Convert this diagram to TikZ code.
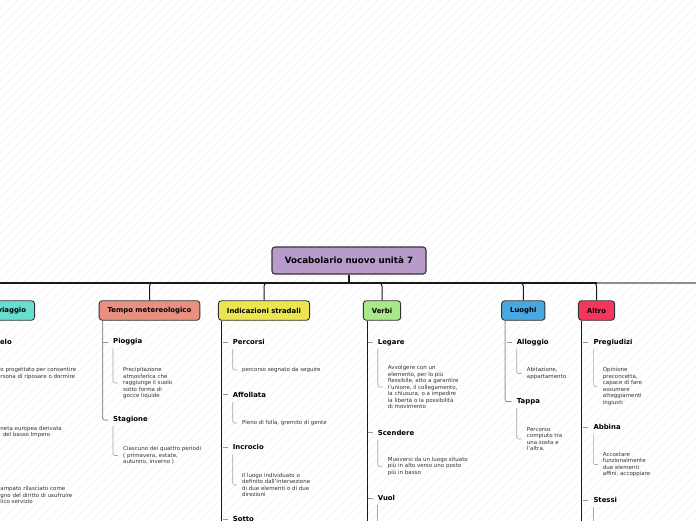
\documentclass[tikz,border=0pt]{standalone}
\usepackage{fontspec}
\setmainfont{DejaVu Sans}
\definecolor{croot}{HTML}{B89BCB}
\definecolor{cteal}{HTML}{68DED0}
\definecolor{csalmon}{HTML}{EA9080}
\definecolor{cyellow}{HTML}{EDE550}
\definecolor{cgreen}{HTML}{A8E888}
\definecolor{cblue}{HTML}{4AA8E0}
\definecolor{cred}{HTML}{F5365C}
\definecolor{edgec}{HTML}{333333}
\definecolor{desct}{HTML}{333333}
\begin{document}
\begin{tikzpicture}[x=1pt,y=-1pt,
  hatch/.style={draw=black!5, line width=0.5pt},
  rootbox/.style={draw=edgec, line width=1.1pt, rounded corners=3pt, fill=croot,
    font=\fontsize{8.7}{10}\selectfont\bfseries, minimum height=27pt, minimum width=154pt, inner xsep=10pt, inner ysep=0pt},
  childbox/.style={draw=edgec, line width=0.9pt, rounded corners=3pt,
    font=\fontsize{6.9}{8}\selectfont\bfseries, minimum height=19.5pt, inner xsep=8.5pt, inner ysep=0pt},
  itemlbl/.style={font=\fontsize{6.9}{8}\selectfont\bfseries, inner sep=0pt, anchor=west},
  desc/.style={font=\fontsize{5.5}{6.5}\selectfont, text=desct, inner sep=0pt, align=left, anchor=west},
  bus/.style={line width=1.4pt, draw=black!90},
  link/.style={line width=1pt, draw=black!90, rounded corners=3pt},
  spine/.style={line width=1pt, draw=black!90},
  grayspine/.style={line width=1pt, draw=black!40, rounded corners=2pt},
  tick/.style={draw=black!40, line width=0.6pt},
  dline/.style={draw=black!35, line width=0.6pt, rounded corners=1.5pt}
]
\useasboundingbox (0,0) rectangle (696,520);
\clip (0,0) rectangle (696,520);
\fill[white] (0,0) rectangle (696,520);
\foreach \i in {-520,-511,...,700} \draw[hatch] (\i,520) -- (\i+520,0);

% root and bus
\node[rootbox] (root) at (349,260.5) {Vocabolario nuovo unità 7};
\coordinate (rootbus) at (349,283);
\coordinate (busL) at (-20,283);
\coordinate (busR) at (597,283);
\coordinate (busE) at (700,283);
\draw[bus] (root.south) -- (rootbus);
\draw[bus] (busL) -- (busR);
\draw[line width=1.4pt, draw=black!45] (busR) -- (busE);

% children
\node[childbox, fill=cteal, anchor=east, text width=60pt, align=right] (viag) at (35,310.5) {Il viaggio};
\node[childbox, fill=csalmon] (tempo) at (149.5,310.5) {Tempo metereologico};
\node[childbox, fill=cyellow] (ind) at (264,310.5) {Indicazioni stradali};
\node[childbox, fill=cgreen] (verbi) at (382,310.5) {Verbi};
\node[childbox, fill=cblue] (luoghi) at (523.3,310.5) {Luoghi};
\node[childbox, fill=cred] (altro) at (596.5,310.5) {Altro};
\foreach \c in {viag,tempo,ind,verbi,luoghi,altro}
  \draw[link] (rootbus) -| (\c.north);

% ---- left column (Viaggio), cut by the page edge
\node[itemlbl, anchor=east] (l1) at (12,342) {elo};
\node[desc] (l1d) at (0.3,373.7) {o progettato per consentire\\rsona di riposare o dormire};
\node[desc] (l2d) at (0.3,432) {neta europea derivata\\\hspace*{2.5pt}del basso Impero};
\node[desc] (l3d) at (0.3,495) {ampato rilasciato come\\gno del diritto di usufruire\\lico servizio};

% ---- Tempo metereologico
\node[itemlbl] (pio) at (113,342) {Pioggia};
\node[desc] (piod) at (123,383) {Precipitazione\\atmosferica che\\raggiunge il suolo\\sotto forma di\\gocce liquide};
\node[itemlbl] (stag) at (113,420) {Stagione};
\node[desc] (stagd) at (123,455.5) {Ciascuno dei quattro periodi\\( primavera, estate,\\autunno, inverno )};
\draw[grayspine] ([xshift=4pt]tempo.south west) |- ([xshift=-5pt]stag.west);
\draw[tick] ([xshift=-10pt]pio.west) -- ([xshift=-5pt]pio.west);
\foreach \a/\b in {pio/piod,stag/stagd}
  \draw[dline] ([yshift=-4.5pt]\a.base west) |- ([xshift=-5pt]\b.west);

% ---- Indicazioni stradali
\node[itemlbl] (perc) at (232.7,342) {Percorsi};
\node[desc] (percd) at (242,370) {percorso segnato da seguire};
\node[itemlbl] (affo) at (232.7,394.7) {Affollata};
\node[desc] (affod) at (242,423) {Pieno di folla, gremito di gente};
\node[itemlbl] (incr) at (232.7,447.3) {Incrocio};
\node[desc] (incrd) at (242,485) {Il luogo individuato o\\definito dall'intersezione\\di due elementi o di due\\direzioni};
\node[itemlbl] (sotto) at (232.7,519) {Sotto};
\draw[spine] ([xshift=4pt]ind.south west) -- ++(0,230);
\foreach \a in {perc,affo,incr,sotto}
  \draw[tick] ([xshift=-10pt]\a.west) -- ([xshift=-5pt]\a.west);
\foreach \a/\b in {perc/percd,affo/affod,incr/incrd}
  \draw[dline] ([yshift=-4.5pt]\a.base west) |- ([xshift=-5pt]\b.west);

% ---- Verbi
\node[itemlbl] (leg) at (377.7,342.7) {Legare};
\node[desc] (legd) at (387.7,387) {Avvolgere con un\\elemento, per lo più\\flessibile, atto a garantire\\l'unione, il collegamento,\\la chiusura, o a impedire\\la libertà o la possibilità\\di movimento};
\node[itemlbl] (scen) at (377.7,432.7) {Scendere};
\node[desc] (scend) at (387.7,466.3) {Muoversi da un luogo situato\\più in alto verso uno posto\\più in basso};
\node[itemlbl] (vuol) at (377.7,498.3) {Vuol};
\draw[spine] ([xshift=4.5pt]verbi.south west) -- ++(0,230);
\foreach \a in {leg,scen,vuol}
  \draw[tick] ([xshift=-10pt]\a.west) -- ([xshift=-5pt]\a.west);
\foreach \a/\b in {leg/legd,scen/scend}
  \draw[dline] ([yshift=-4.5pt]\a.base west) |- ([xshift=-5pt]\b.west);
\draw[dline] ([yshift=-4.5pt]vuol.base west) -- ++(0,30);

% ---- Luoghi
\node[itemlbl] (allo) at (516.7,342.7) {Alloggio};
\node[desc] (allod) at (526.7,373.5) {Abitazione,\\appartamento};
\node[itemlbl] (tappa) at (516.7,401.7) {Tappa};
\node[desc] (tappad) at (526.7,439) {Percorso\\compiuto tra\\una sosta e\\l'altra.};
\draw[grayspine] ([xshift=4pt]luoghi.south west) |- ([xshift=-5pt]tappa.west);
\draw[tick] ([xshift=-10pt]allo.west) -- ([xshift=-5pt]allo.west);
\foreach \a/\b in {allo/allod,tappa/tappad}
  \draw[dline] ([yshift=-4.5pt]\a.base west) |- ([xshift=-5pt]\b.west);

% ---- Altro
\node[itemlbl] (preg) at (593.3,342.7) {Pregiudizi};
\node[desc] (pregd) at (602.7,386.3) {Opinione\\preconcetta,\\capace di fare\\assumere\\atteggiamenti\\ingiusti};
\node[itemlbl] (abb) at (593.3,427.3) {Abbina};
\node[desc] (abbd) at (602.7,464.5) {Accostare\\funzionalmente\\due elementi\\affini, accoppiare};
\node[itemlbl] (stessi) at (593.3,500) {Stessi};
\draw[spine] ([xshift=4pt]altro.south west) -- ++(0,230);
\foreach \a in {preg,abb,stessi}
  \draw[tick] ([xshift=-10pt]\a.west) -- ([xshift=-5pt]\a.west);
\foreach \a/\b in {preg/pregd,abb/abbd}
  \draw[dline] ([yshift=-4.5pt]\a.base west) |- ([xshift=-5pt]\b.west);
\draw[dline] ([yshift=-4.5pt]stessi.base west) -- ++(0,30);
\end{tikzpicture}
\end{document}
